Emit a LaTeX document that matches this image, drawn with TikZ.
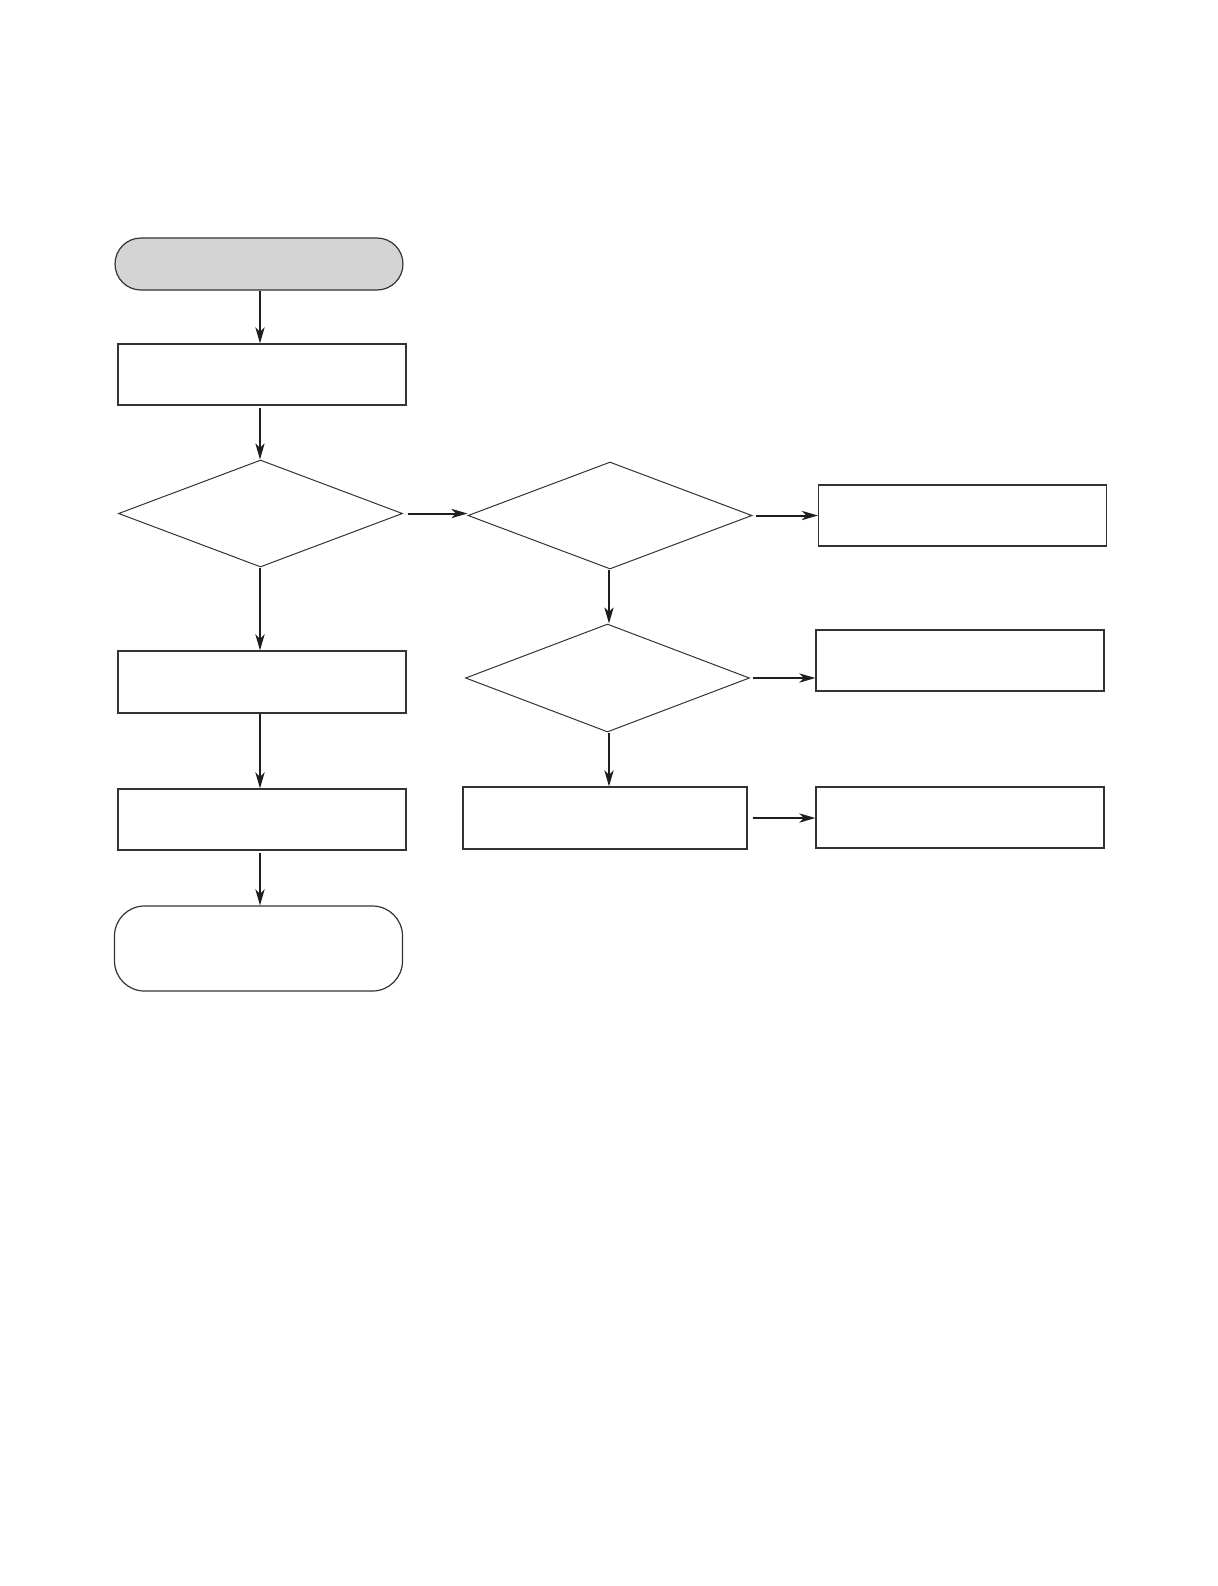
\documentclass[tikz,border=0pt]{standalone}
\usetikzlibrary{shapes.geometric,arrows.meta}
\definecolor{edgegray}{HTML}{333333}
\definecolor{arrowgray}{HTML}{1E1E1E}
\definecolor{startfill}{HTML}{D4D4D4}
\begin{document}
\begin{tikzpicture}[x=0.5pt,y=-0.5pt,
  box/.style={draw=edgegray,line width=0.6pt,rectangle,inner sep=0pt,minimum width=144pt,minimum height=30.5pt},
  dec/.style={draw=edgegray,line width=0.5pt,diamond,inner sep=0pt,minimum width=142pt,minimum height=53.5pt},
  term/.style={draw=edgegray,line width=0.6pt,rectangle,inner sep=0pt,minimum width=144pt},
  arr/.style={draw=arrowgray,line width=1pt,-{Stealth[length=8pt,width=4.6pt,inset=2.2pt]}}]
\useasboundingbox (0,0) rectangle (1218,1586);
\node[term,fill=startfill,rounded corners=13pt,minimum height=26pt] (start) at (259,264) {};
\node[box] (b1) at (262,374.5) {};
\node[dec] (d1) at (260.5,513.5) {};
\node[dec,minimum width=142pt] (d2) at (610,515.5) {};
\node[box] (r1) at (962.5,515.5) {};
\node[dec,minimum height=54pt] (d3) at (607.5,678) {};
\node[box] (r2) at (960,660.5) {};
\node[box,minimum height=31pt] (l2) at (262,682) {};
\node[box] (l3) at (262,819.5) {};
\node[term,rounded corners=15pt,minimum height=42.5pt] (fin) at (258.5,948.5) {};
\node[box,minimum width=142pt,minimum height=31pt] (mid) at (605,818) {};
\node[box] (r3) at (960,817.5) {};
% left column
\coordinate (cx) at (260,0);
\draw[arr] (start.south -| cx) -- (b1.north -| cx);
\draw[arr] ([yshift=-1pt]b1.south -| cx) -- (d1.north -| cx);
\draw[arr] (d1.south -| cx) -- (l2.north -| cx);
\draw[arr] (l2.south -| cx) -- (l3.north -| cx);
\draw[arr] ([yshift=-1pt]l3.south -| cx) -- (fin.north -| cx);
% center column
\coordinate (mx) at (609,0);
\draw[arr] (d2.south -| mx) -- (d3.north -| mx);
\draw[arr] (d3.south -| mx) -- (mid.north -| mx);
% horizontal
\draw[arr] ([xshift=2.5pt]d1.east) -- (d1.east -| d2.west);
\draw[arr] ([xshift=1.5pt]d2.east) -- (d2.east -| r1.west);
\draw[arr] ([xshift=1.5pt]d3.east) -- (d3.east -| r2.west);
\coordinate (my) at (0,818);
\draw[arr] ([xshift=2.5pt]mid.east |- my) -- (r3.west |- my);
\end{tikzpicture}
\end{document}
